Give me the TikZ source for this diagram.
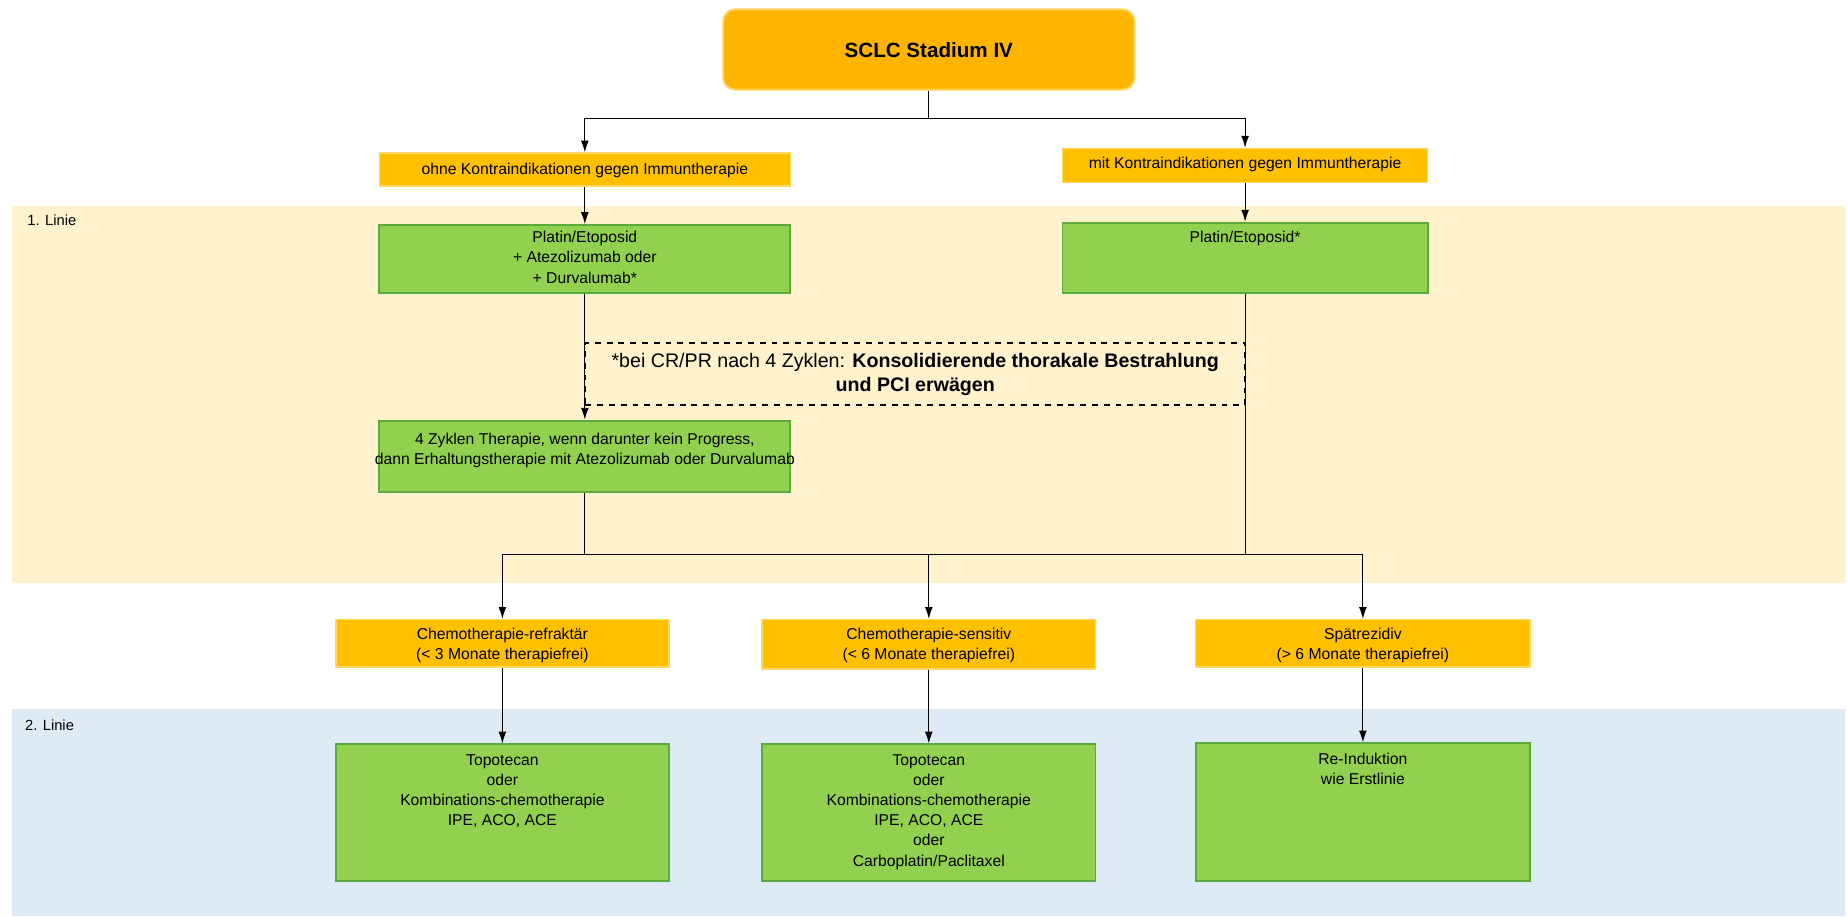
\documentclass[tikz,border=0pt]{standalone}
\usepackage{fontspec}
\setmainfont{Liberation Sans}
\usetikzlibrary{arrows.meta,fit}
\definecolor{titlefill}{HTML}{FFB500}
\definecolor{titledraw}{HTML}{FFD45C}
\definecolor{ofill}{HTML}{FFC000}
\definecolor{odraw}{HTML}{FFD966}
\definecolor{gfill}{HTML}{92D050}
\definecolor{gdraw}{HTML}{5AAA3C}
\definecolor{bandone}{HTML}{FFF2CC}
\definecolor{bandtwo}{HTML}{DEEAF6}
\begin{document}
\begin{tikzpicture}[x=0.6pt,y=-0.6pt,
  boxbase/.style={rectangle, inner sep=0pt},
  titlebox/.style={boxbase, rounded corners=6pt, fill=titlefill, draw=titledraw, line width=1pt},
  obox/.style={boxbase, fill=ofill, draw=odraw, line width=0.8pt},
  gbox/.style={boxbase, fill=gfill, draw=gdraw, line width=1pt},
  txt/.style={inner sep=0pt, align=center, font=\fontsize{8}{10.3}\selectfont},
  lbl/.style={inner sep=0pt, font=\fontsize{7.5}{9}\selectfont},
  notebox/.style={boxbase, draw=black, dashed, line width=0.8pt},
  conn/.style={line width=0.5pt, draw=black},
  arr/.style={conn, -{Latex[length=6pt,width=4pt]}}
]
\useasboundingbox (0,0) rectangle (1568,778);
% bands
\fill[bandone] (10,175) rectangle (1566,495);
\fill[bandtwo] (10,602) rectangle (1566,778);
\node[lbl, anchor=west] (lone) at (23,187) {1. Linie};
\node[lbl, anchor=west] (ltwo) at (21,616) {2. Linie};

% title
\node[titlebox, fit={(614,8) (963,76)}] (title) {};
\node[font=\bfseries\fontsize{10.5}{12.6}\selectfont, inner sep=0pt] (titletxt) at ([yshift=-0.5pt]title.center) {SCLC Stadium IV};

% orange top row
\node[obox, fit={(322,130) (671,158)}] (ohne) {};
\node[txt] (ohnetxt) at ([yshift=-0.5pt]ohne.center) {ohne Kontraindikationen gegen Immuntherapie};
\node[obox, fit={(902,126) (1212,155)}] (mit) {};
\node[txt] (mittxt) at ([yshift=0.5pt]mit.center) {mit Kontraindikationen gegen Immuntherapie};

% green first line
\node[gbox, fit={(322,191) (671,249)}] (gone) {};
\node[txt, anchor=north] (gonetxt) at (496.5,196) {Platin/Etoposid\\+ Atezolizumab oder\\+ Durvalumab*};
\node[gbox, fit={(902,189) (1212,249)}] (gtwo) {};
\node[txt, anchor=north] (gtwotxt) at (1057,196) {Platin/Etoposid*};
\node[gbox, fit={(322,357) (671,418)}] (gthree) {};
\node[txt, anchor=north] (gthreetxt) at (496.5,367.5) {4 Zyklen Therapie, wenn darunter kein Progress,\\dann Erhaltungstherapie mit Atezolizumab oder Durvalumab};

% dashed note
\node[notebox, fit={(497,291) (1057,344)}] (note) {};
\node[inner sep=0pt, align=center, font=\fontsize{10}{12}\selectfont] (notetxt) at ([yshift=-0.3pt]note.center) {*bei CR/PR nach 4 Zyklen: \textbf{Konsolidierende thorakale Bestrahlung}\\\textbf{und PCI erwägen}};

% orange second row
\node[obox, fit={(285,526) (568,566)}] (ra) {};
\node[txt] (ratxt) at ([yshift=-1pt]ra.center) {Chemotherapie-refraktär\\(< 3 Monate therapiefrei)};
\node[obox, fit={(647,526) (930,568)}] (rb) {};
\node[txt] (rbtxt) at ([yshift=-0.5pt]rb.center) {Chemotherapie-sensitiv\\(< 6 Monate therapiefrei)};
\node[obox, fit={(1015,526) (1299,566)}] (rc) {};
\node[txt] (rctxt) at ([yshift=-1pt]rc.center) {Spätrezidiv\\(> 6 Monate therapiefrei)};

% green second line
\node[gbox, fit={(285,632) (568,748)}] (sa) {};
\node[txt, anchor=north] (satxt) at (426.5,640) {Topotecan\\oder\\Kombinations-chemotherapie\\IPE, ACO, ACE};
\node[gbox, fit={(647,632) (930,748)}] (sb) {};
\node[txt, anchor=north] (sbtxt) at (788.5,640) {Topotecan\\oder\\Kombinations-chemotherapie\\IPE, ACO, ACE\\oder\\Carboplatin/Paclitaxel};
\node[gbox, fit={(1015,631) (1299,748)}] (sc) {};
\node[txt, anchor=north] (sctxt) at (1157,639) {Re-Induktion\\wie Erstlinie};

% connectors
\coordinate (split) at (788.5,101);
\draw[conn] (title.south) -- (split);
\draw[arr] (split) -| (ohne.north);
\draw[arr] (split) -| (mit.north);
\draw[arr] (ohne.south) -- (gone.north);
\draw[arr] (mit.south) -- (gtwo.north);
\draw[arr] (gone.south) -- (gthree.north);

\coordinate (jl) at (426.5,471);
\coordinate (jm) at (788.5,471);
\coordinate (jr) at (1157,471);
\draw[conn] (gthree.south) |- (jl);
\draw[conn] (gtwo.south) |- (jr);
\draw[conn] (jl) -- (jr);
\draw[arr] (jl) -- (ra.north);
\draw[arr] (jm) -- (rb.north);
\draw[arr] (jr) -- (rc.north);
\draw[arr] (ra.south) -- (sa.north);
\draw[arr] (rb.south) -- (sb.north);
\draw[arr] (rc.south) -- (sc.north);
\end{tikzpicture}
\end{document}
